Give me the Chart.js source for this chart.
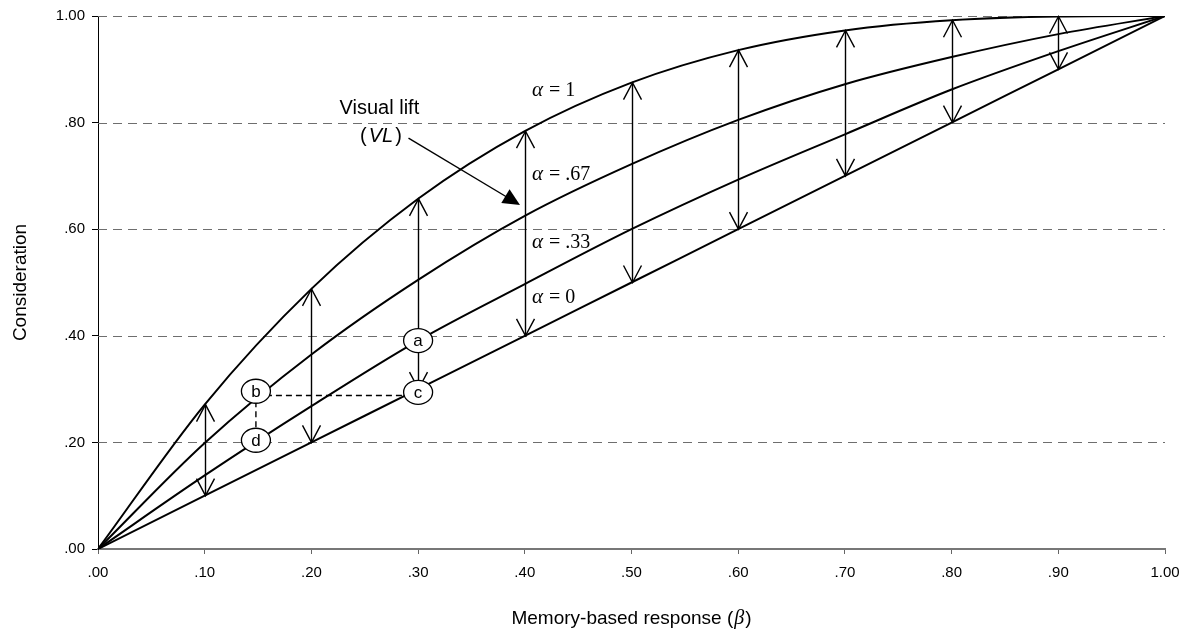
<!DOCTYPE html>
<html>
<head>
<meta charset="utf-8">
<script src="https://cdn.jsdelivr.net/npm/chart.js@4"></script>
<style>
  html, body { margin: 0; padding: 0; background: #fff; }
</style>
</head>
<body>
<canvas id="chart" width="1196" height="636"></canvas>
<script>
// memory-based response (beta) and consideration for each alpha curve
const beta    = [0, .1, .2, .3, .4, .5, .6, .7, .8, .9, 1];
const alpha0  = [0, .1, .2, .3, .4, .5, .6, .7, .8, .9, 1];
const alpha33 = [0, .138, .268, .391, .497, .600, .693, .778, .862, .934, 1];
const alpha67 = [0, .199, .365, .505, .625, .722, .805, .872, .923, .966, 1];
const alpha1  = [0, .271, .488, .657, .784, .875, .936, .973, .992, .999, 1];

const xTicks = [0, .1, .2, .3, .4, .5, .6, .7, .8, .9, 1];
const yTicks = [0, .2, .4, .6, .8, 1];

// visual lift arrows go from alpha = 0 up to alpha = 1 at these beta values
const liftAt = [.1, .2, .3, .4, .5, .6, .7, .8, .9];

// lettered points
const pointNames = ['a', 'b', 'c', 'd'];
const pointX = [.3, .148, .3, .148];
const pointY = [.391, .296, .294, .204];

const curveLabels = ['1', '.67', '.33', '0'];

const SANS = '"Liberation Sans", Arial, sans-serif';
const SERIF = '"Liberation Serif", "Times New Roman", serif';

function fmt(v) {
  if (v >= 1) return '1.00';
  return '.' + Math.round(v * 100).toString().padStart(2, '0');
}

function head(ctx, x, y, dir) {
  // open V arrowhead, dir -1 = pointing up, +1 = pointing down
  ctx.beginPath();
  ctx.moveTo(x - 9, y - dir * 17);
  ctx.lineTo(x, y);
  ctx.lineTo(x + 9, y - dir * 17);
  ctx.stroke();
}

const annotations = {
  id: 'annotations',
  beforeDatasetsDraw(chart) {
    const ctx = chart.ctx, xs = chart.scales.x, ys = chart.scales.y;
    ctx.save();
    ctx.strokeStyle = '#6e6e6e';
    ctx.lineWidth = 1;
    ctx.setLineDash([9, 6]);
    yTicks.forEach(v => {
      if (v === 0) return;
      const py = Math.round(ys.getPixelForValue(v)) + 0.5;
      ctx.beginPath();
      ctx.moveTo(xs.left, py);
      ctx.lineTo(xs.right, py);
      ctx.stroke();
    });
    ctx.restore();
  },
  afterDatasetsDraw(chart) {
    const ctx = chart.ctx, xs = chart.scales.x, ys = chart.scales.y;
    const X = v => xs.getPixelForValue(v), Y = v => ys.getPixelForValue(v);
    ctx.save();

    // lift arrows
    ctx.strokeStyle = '#000';
    ctx.lineWidth = 1.4;
    liftAt.forEach(b => {
      const i = beta.indexOf(b);
      const px = Math.round(X(b)) + 0.5;
      const top = Y(alpha1[i]), bot = Y(alpha0[i]);
      ctx.beginPath();
      ctx.moveTo(px, top);
      ctx.lineTo(px, bot);
      ctx.stroke();
      head(ctx, px, top, -1);
      head(ctx, px, bot, 1);
    });

    // dashed links b-c and b-d
    ctx.setLineDash([6, 4]);
    ctx.lineWidth = 1.4;
    ctx.beginPath();
    ctx.moveTo(X(pointX[1]), Y(.288));
    ctx.lineTo(X(pointX[2]), Y(.288));
    ctx.moveTo(X(pointX[1]), Y(pointY[1]));
    ctx.lineTo(X(pointX[3]), Y(pointY[3]));
    ctx.stroke();
    ctx.setLineDash([]);

    // lettered ellipses
    ctx.font = '17px ' + SANS;
    ctx.textAlign = 'center';
    ctx.textBaseline = 'middle';
    pointNames.forEach((n, i) => {
      const px = X(pointX[i]), py = Y(pointY[i]);
      ctx.beginPath();
      ctx.ellipse(px, py, 14.5, 12, 0, 0, Math.PI * 2);
      ctx.fillStyle = '#fff';
      ctx.fill();
      ctx.lineWidth = 1.3;
      ctx.stroke();
      ctx.fillStyle = '#000';
      ctx.fillText(n, px, py + 1);
    });

    // alpha labels
    const labY = [.86, .703, .575, .472];
    ctx.textAlign = 'left';
    curveLabels.forEach((t, i) => {
      let x0 = X(.4067), y0 = Y(labY[i]);
      ctx.font = 'italic 21px ' + SERIF;
      ctx.fillText('\u03b1', x0, y0);
      x0 += ctx.measureText('\u03b1').width + 6;
      ctx.font = '20px ' + SERIF;
      ctx.fillText('= ' + t, x0, y0);
    });

    // visual lift callout
    ctx.font = '20px ' + SANS;
    ctx.textAlign = 'center';
    ctx.fillText('Visual lift', X(.2637), Y(.826));
    const vx = X(.2652), vy = Y(.774);
    ctx.font = 'italic 20px ' + SANS;
    const wv = ctx.measureText('VL').width;
    ctx.fillText('VL', vx, vy);
    ctx.font = '20px ' + SANS;
    ctx.textAlign = 'right';
    ctx.fillText('(', vx - wv / 2 - 2, vy);
    ctx.textAlign = 'left';
    ctx.fillText(')', vx + wv / 2 + 2, vy);

    const sx = X(.291), sy = Y(.771), tx = X(.3955), ty = Y(.6455);
    const ang = Math.atan2(ty - sy, tx - sx);
    ctx.lineWidth = 1.4;
    ctx.beginPath();
    ctx.moveTo(sx, sy);
    ctx.lineTo(tx - 14 * Math.cos(ang), ty - 14 * Math.sin(ang));
    ctx.stroke();
    ctx.beginPath();
    ctx.moveTo(tx, ty);
    ctx.lineTo(tx - 17 * Math.cos(ang) + 8 * Math.sin(ang), ty - 17 * Math.sin(ang) - 8 * Math.cos(ang));
    ctx.lineTo(tx - 17 * Math.cos(ang) - 8 * Math.sin(ang), ty - 17 * Math.sin(ang) + 8 * Math.cos(ang));
    ctx.closePath();
    ctx.fill();

    ctx.restore();
  },
  afterDraw(chart) {
    const ctx = chart.ctx, area = chart.chartArea;
    ctx.save();
    ctx.fillStyle = '#000';
    ctx.textBaseline = 'middle';
    // y title
    ctx.font = '19px ' + SANS;
    ctx.translate(21, (area.top + area.bottom) / 2);
    ctx.rotate(-Math.PI / 2);
    ctx.textAlign = 'center';
    ctx.fillText('Consideration', 0, 0);
    ctx.setTransform(1, 0, 0, 1, 0, 0);
    // x title with italic beta
    const p1 = 'Memory-based response (', p3 = ')';
    ctx.font = '19px ' + SANS;
    const w1 = ctx.measureText(p1).width, w3 = ctx.measureText(p3).width;
    ctx.font = 'italic 20px ' + SERIF;
    const w2 = ctx.measureText('\u03b2').width + 2;
    let x = (area.left + area.right) / 2 - (w1 + w2 + w3) / 2;
    const y = 619;
    ctx.textAlign = 'left';
    ctx.font = '19px ' + SANS;
    ctx.fillText(p1, x, y);
    ctx.font = 'italic 20px ' + SERIF;
    ctx.fillText('\u03b2', x + w1 + 1, y);
    ctx.font = '19px ' + SANS;
    ctx.fillText(p3, x + w1 + w2, y);
    ctx.restore();
  }
};

function curve(vals) {
  return {
    data: beta.map((b, i) => ({ x: b, y: vals[i] })),
    borderColor: '#000',
    borderWidth: 2,
    pointRadius: 0,
    cubicInterpolationMode: 'monotone',
    fill: false
  };
}

new Chart(document.getElementById('chart'), {
  type: 'line',
  data: {
    datasets: [curve(alpha1), curve(alpha67), curve(alpha33), curve(alpha0)]
  },
  options: {
    responsive: false,
    animation: false,
    layout: { padding: { top: 14, right: 31, left: 0, bottom: 0 } },
    plugins: { legend: { display: false }, tooltip: { enabled: false } },
    scales: {
      x: {
        type: 'linear', min: 0, max: 1,
        afterBuildTicks: s => { s.ticks = xTicks.map(v => ({ value: v })); },
        afterFit: s => { s.height = 87; },
        ticks: { callback: fmt, font: { family: SANS, size: 15 }, color: '#000', padding: 10, maxRotation: 0, autoSkip: false },
        grid: { drawOnChartArea: false, drawTicks: true, tickLength: 5, tickColor: '#666', tickWidth: 1 },
        border: { color: '#777', width: 2 }
      },
      y: {
        type: 'linear', min: 0, max: 1,
        afterBuildTicks: s => { s.ticks = yTicks.map(v => ({ value: v })); },
        afterFit: s => { s.width = 98; },
        ticks: { callback: fmt, font: { family: SANS, size: 15 }, color: '#000', padding: 7 },
        grid: { drawOnChartArea: false, drawTicks: true, tickLength: 6, tickColor: '#000', tickWidth: 1 },
        border: { color: '#000', width: 1 }
      }
    }
  },
  plugins: [annotations]
});
</script>
</body>
</html>
